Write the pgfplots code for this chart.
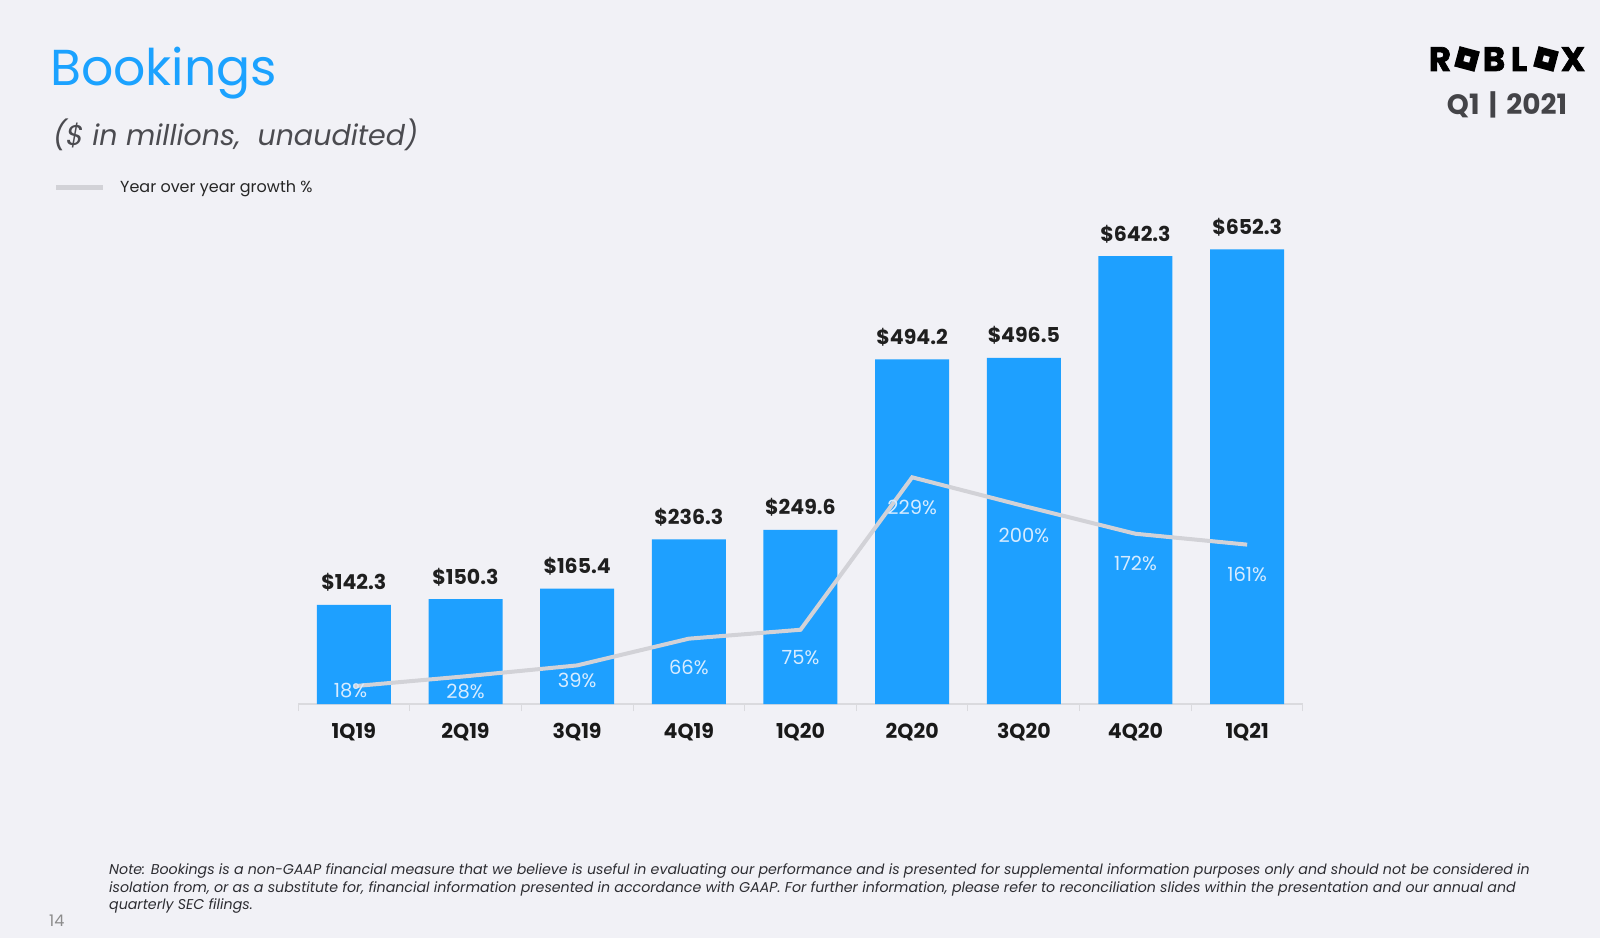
\documentclass[border=0pt]{standalone}
\usepackage{pgfplots}
\pgfplotsset{compat=1.18}
\usepackage{fontspec}
\setmainfont{Poppins}
\newfontfamily\logofont{Poppins}[FakeBold=2]
\definecolor{bg}{RGB}{241,241,246}
\definecolor{barblue}{RGB}{30,160,255}
\definecolor{titleblue}{RGB}{27,162,255}
\definecolor{linegray}{RGB}{210,210,215}
\definecolor{axisgray}{RGB}{218,218,222}
\definecolor{subgray}{RGB}{75,75,80}
\definecolor{notegray}{RGB}{45,45,50}
\definecolor{pctwhite}{RGB}{215,236,255}
\definecolor{qgray}{RGB}{68,68,72}

\begin{document}
\begin{tikzpicture}
\fill[bg] (0pt,0pt) rectangle (1600pt,938pt);

% Titles
\node[anchor=base west, inner sep=0pt, text=titleblue, font=\fontsize{50.5}{56}\selectfont] at (50pt,852pt) {Bookings};
\node[anchor=base west, inner sep=0pt, text=subgray, font=\fontsize{28.5}{32}\selectfont\itshape] at (53pt,792pt) {(\$ in millions,\ \ unaudited)};

% Legend
\draw[linegray, line width=5pt] (56pt,750.5pt) -- (103pt,750.5pt);
\node[anchor=base west, inner sep=0pt, text=black!85, font=\fontsize{16}{18}\selectfont] at (120pt,745pt) {Year over year growth \%};

% Logo
\begin{scope}[font=\fontsize{34}{34}\selectfont\logofont\bfseries]
\node[anchor=base, inner sep=0pt] at (1440pt,867pt) {R};
\node[fill=black, minimum size=21pt, inner sep=0pt, rotate=-15] at (1467pt,879pt) {};
\node[fill=bg, minimum size=6pt, inner sep=0pt, rotate=-15] at (1467pt,879pt) {};
\node[anchor=base, inner sep=0pt] at (1494pt,867pt) {B};
\node[anchor=base, inner sep=0pt] at (1519pt,867pt) {L};
\node[fill=black, minimum size=21pt, inner sep=0pt, rotate=-15] at (1546pt,879pt) {};
\node[fill=bg, minimum size=6pt, inner sep=0pt, rotate=-15] at (1546pt,879pt) {};
\node[anchor=base, inner sep=0pt] at (1573pt,867pt) {X};
\end{scope}
\node[anchor=base, inner sep=0pt, text=qgray, font=\fontsize{28}{30}\selectfont\bfseries] at (1507pt,823pt) {Q1\,\,|\,\,2021};

% Bars
\begin{axis}[
  at={(298pt,234pt)}, anchor=south west,
  scale only axis, width=1005pt, height=488pt,
  xmin=-0.5, xmax=8.5, ymin=0, ymax=700,
  axis x line*=bottom, axis y line=none,
  x axis line style={draw=axisgray, line width=1.5pt, -},
  xtick={0,1,2,3,4,5,6,7,8},
  xticklabels={1Q19,2Q19,3Q19,4Q19,1Q20,2Q20,3Q20,4Q20,1Q21},
  major tick length=0pt,
  xticklabel style={anchor=base, yshift=-34pt, inner sep=0pt, text=black!90, font=\fontsize{20.5}{21}\selectfont\bfseries},
  extra x ticks={-0.5,0.5,1.5,2.5,3.5,4.5,5.5,6.5,7.5,8.5},
  extra x tick labels={},
  extra x tick style={major tick length=7pt, tick align=outside, major tick style={draw=axisgray, line width=1pt}},
  clip=false,
]
\addplot[ybar, bar width=74pt, fill=barblue, draw=none,
  nodes near coords, point meta=explicit symbolic,
  every node near coord/.style={anchor=base, yshift=15pt, inner sep=0pt, text=black!88, font=\fontsize{20.5}{21}\selectfont\bfseries}]
coordinates {
 (0,142.3) [\$142.3]
 (1,150.3) [\$150.3]
 (2,165.4) [\$165.4]
 (3,236.3) [\$236.3]
 (4,249.6) [\$249.6]
 (5,494.2) [\$494.2]
 (6,496.5) [\$496.5]
 (7,642.3) [\$642.3]
 (8,652.3) [\$652.3]
};
\end{axis}

% Growth line
\begin{axis}[
  at={(298pt,234pt)}, anchor=south west,
  scale only axis, width=1005pt, height=488pt,
  xmin=-0.5, xmax=8.5, ymin=0, ymax=493,
  axis lines=none, clip=false,
]
\addplot[draw=none, mark=none,
  nodes near coords, point meta=explicit symbolic,
  every node near coord/.style={anchor=center, inner sep=0pt, text=pctwhite, font=\fontsize{19.5}{20}\selectfont}]
coordinates {
 (-0.03,14.1) [18\%]
 (1,13.1) [28\%]
 (2,23.6) [39\%]
 (3,37.4) [66\%]
 (4,46.5) [75\%]
 (5,199) [229\%]
 (6,170.7) [200\%]
 (7,142.4) [172\%]
 (8,130.8) [161\%]
};
\addplot[linegray, line width=4pt, mark=none] coordinates {
 (0,18) (1,28) (2,39) (3,66) (4,75) (5,229) (6,200) (7,172) (8,161)
};
\end{axis}

% Footnote
\begin{scope}[font=\fontsize{14.2}{17}\selectfont\itshape]
\node[anchor=base west, inner sep=0pt, text=notegray] at (109pt,63.5pt) {Note: Bookings is a non-GAAP financial measure that we believe is useful in evaluating our performance and is presented for supplemental information purposes only and should not be considered in};
\node[anchor=base west, inner sep=0pt, text=notegray] at (109pt,46pt) {isolation from, or as a substitute for, financial information presented in accordance with GAAP. For further information, please refer to reconciliation slides within the presentation and our annual and};
\node[anchor=base west, inner sep=0pt, text=notegray] at (109pt,29pt) {quarterly SEC filings.};
\end{scope}
\node[anchor=base west, inner sep=0pt, text=black!45, font=\fontsize{16}{18}\selectfont] at (49pt,12pt) {14};
\end{tikzpicture}
\end{document}
